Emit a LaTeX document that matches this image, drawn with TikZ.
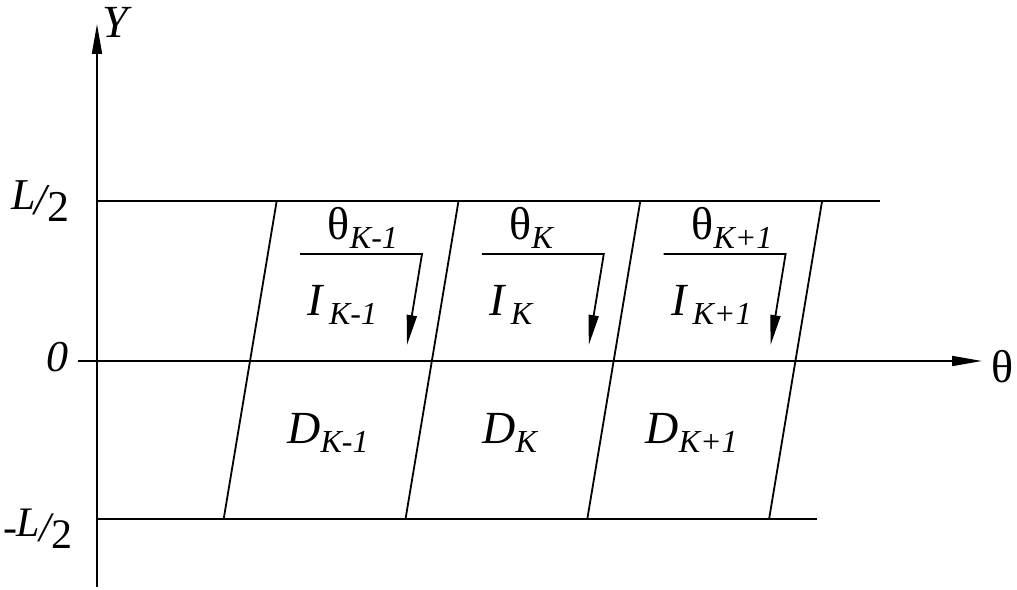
\documentclass[tikz,border=0pt]{standalone}
\usepackage{fontspec}
\setmainfont{Liberation Serif}
\usetikzlibrary{arrows.meta}
% Index und Bruch L/2
\newcommand{\idx}[1]{\raisebox{-4.5pt}{\fontsize{16}{16}\selectfont\itshape #1}}
\newcommand{\halbL}{\raisebox{2.5pt}{\textit{L}}\kern-0.5pt\textit{/}\kern-1.5pt\raisebox{-3.5pt}{2}}

\begin{document}
\begin{tikzpicture}[x=0.5pt, y=0.5pt, line width=0.9pt,
			>={Triangle[length=15pt,width=5pt]},   %Pfeilspitzen
			lbl/.style={inner sep=0pt, font=\fontsize{23}{27}\selectfont},
			rnd/.style={inner sep=0pt, font=\fontsize{22}{26}\selectfont}]
			\useasboundingbox (-97,-228) rectangle (920,361);
			% Achsen zeichnen
			\coordinate (O) at (0,0);
			\coordinate (ymin) at (0,-226);
			\coordinate (ymax) at (0,337);
			\coordinate (xmin) at (-19,0);
			\coordinate (xmax) at (885,0);
			\draw[->] (ymin) -- (ymax);
			\draw[->] (xmin) -- (xmax);
			\node[lbl] (ylab) at (20,339) {\textit{Y}};
			\node[lbl] (xlab) at (906,-6) {θ};
			% Ränder bei L/2 und -L/2
			\coordinate (ol) at (0,160);
			\coordinate (or) at (783,160);
			\coordinate (ul) at (0,-158);
			\coordinate (ur) at (720,-158);
			\draw (ol) -- (or);
			\draw (ul) -- (ur);
			\node[rnd, anchor=east] (oben) at (-27,160) {\halbL};
			\node[rnd, anchor=east] (null) at (-28,4) {\textit{0}};
			\node[rnd, anchor=east, font=\fontsize{21}{25}\selectfont] (unten) at (-24,-168) {-\kern-0.5pt\halbL};
			% schräge Linien
			\foreach \x [count=\i] in {153,334.8,516.6,698.4} {
				\coordinate (t\i) at (\x+26.7,160);
				\coordinate (b\i) at (\x-26.3,-158);
				\draw (b\i) -- (t\i);
			}
			% Zellen beschriften
			\foreach \x/\k [count=\i] in {153/{K-1},334.8/K,516.6/{K+1}} {
				\coordinate (s\i) at (\x+50,107);
				\coordinate (c\i) at (\x+172,107);
				\coordinate (e\i) at (\x+157,16);
				\draw[->] (s\i) -- (c\i) -- (e\i);
				\node[lbl, anchor=base west] (th\i) at (\x+77,121) {θ\idx{\k}};
				\node[lbl, anchor=base west] (i\i) at (\x+57,46) {\textit{I}\kern2pt\idx{\k}};
				\node[lbl, anchor=base] (d\i) at (\x+78,-82) {\textit{D}\idx{\k}};
			}
		\end{tikzpicture}
\end{document}
